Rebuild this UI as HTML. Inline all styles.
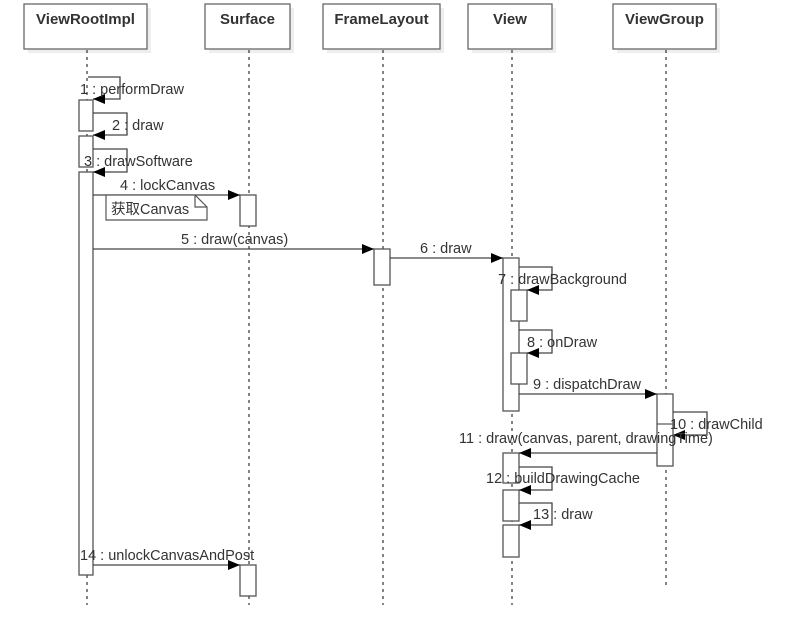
<!DOCTYPE html>
<html><head><meta charset="utf-8"><style>
html,body{margin:0;padding:0;background:#fff;}
svg text{font-family:"Liberation Sans","Noto Sans CJK SC",sans-serif;fill:#333;}
</style></head><body>
<svg width="800" height="622" viewBox="0 0 800 622" xmlns="http://www.w3.org/2000/svg">
<defs>
<marker id="a" markerWidth="12" markerHeight="10" refX="12" refY="5" orient="auto" markerUnits="userSpaceOnUse">
<path d="M0,0 L12,5 L0,10 Z" fill="#000"/></marker>
</defs>
<g fill="#eee">
<rect x="28" y="8" width="123" height="45"/><rect x="209" y="8" width="85" height="45"/>
<rect x="327" y="8" width="117" height="45"/><rect x="472" y="8" width="84" height="45"/>
<rect x="617" y="8" width="103" height="45"/>
</g>
<g fill="#fff" stroke="#666" stroke-width="1.3">
<rect x="24" y="4" width="123" height="45"/><rect x="205" y="4" width="85" height="45"/>
<rect x="323" y="4" width="117" height="45"/><rect x="468" y="4" width="84" height="45"/>
<rect x="613" y="4" width="103" height="45"/>
</g>
<g font-weight="bold" font-size="15" text-anchor="middle">
<text x="85.5" y="24">ViewRootImpl</text><text x="247.5" y="24">Surface</text>
<text x="381.5" y="24">FrameLayout</text><text x="510" y="24">View</text>
<text x="664.5" y="24">ViewGroup</text>
</g>
<g stroke="#333" stroke-width="1.2" stroke-dasharray="3,4">
<line x1="87" y1="50" x2="87" y2="605"/><line x1="249" y1="50" x2="249" y2="605"/>
<line x1="383" y1="50" x2="383" y2="605"/><line x1="512" y1="50" x2="512" y2="605"/>
<line x1="666" y1="50" x2="666" y2="585"/>
</g>
<g fill="#fff" stroke="#555" stroke-width="1.3">
<rect x="79" y="100" width="14" height="31"/><rect x="79" y="136" width="14" height="31"/>
<rect x="79" y="172" width="14" height="403"/>
<rect x="240" y="195" width="16" height="31"/>
<rect x="374" y="249" width="16" height="36"/>
<rect x="503" y="258" width="16" height="153"/>
<rect x="511" y="290" width="16" height="31"/><rect x="511" y="353" width="16" height="31"/>
<rect x="657" y="394" width="16" height="72"/>
<rect x="503" y="453" width="16" height="30"/>
<rect x="503" y="490" width="16" height="31"/><rect x="503" y="525" width="16" height="32"/>
<rect x="240" y="565" width="16" height="31"/>
</g>
<line x1="657" y1="424" x2="673" y2="424" stroke="#555" stroke-width="1.2"/>
<g fill="none" stroke="#444" stroke-width="1.3">
<polyline points="88,77 120,77 120,99 93,99" marker-end="url(#a)"/>
<polyline points="93,113 127,113 127,135 93,135" marker-end="url(#a)"/>
<polyline points="93,149 127,149 127,172 93,172" marker-end="url(#a)"/>
<line x1="93" y1="195" x2="240" y2="195" marker-end="url(#a)"/>
<line x1="93" y1="249" x2="374" y2="249" marker-end="url(#a)"/>
<line x1="390" y1="258" x2="503" y2="258" marker-end="url(#a)"/>
<polyline points="519,267 552,267 552,290 527,290" marker-end="url(#a)"/>
<polyline points="519,330 552,330 552,353 527,353" marker-end="url(#a)"/>
<line x1="519" y1="394" x2="657" y2="394" marker-end="url(#a)"/>
<polyline points="673,412 707,412 707,435 673,435" marker-end="url(#a)"/>
<line x1="657" y1="453" x2="519" y2="453" marker-end="url(#a)"/>
<polyline points="519,467 552,467 552,490 519,490" marker-end="url(#a)"/>
<polyline points="519,503 552,503 552,525 519,525" marker-end="url(#a)"/>
<line x1="93" y1="565" x2="240" y2="565" marker-end="url(#a)"/>
</g>
<path d="M106,195 L195,195 L207,207 L207,220 L106,220 Z" fill="#fff" stroke="#555" stroke-width="1.2"/>
<path d="M195,195 L195,207 L207,207" fill="none" stroke="#555" stroke-width="1.2"/>
<g font-size="14.5">
<text x="80" y="94">1 : performDraw</text>
<text x="112" y="130">2 : draw</text>
<text x="84" y="166">3 : drawSoftware</text>
<text x="120" y="190">4 : lockCanvas</text>
<text x="111" y="214">获取Canvas</text>
<text x="181" y="244">5 : draw(canvas)</text>
<text x="420" y="253">6 : draw</text>
<text x="498" y="284">7 : drawBackground</text>
<text x="527" y="347">8 : onDraw</text>
<text x="533" y="389">9 : dispatchDraw</text>
<text x="670" y="429">10 : drawChild</text>
<text x="459" y="443">11 : draw(canvas, parent, drawingTime)</text>
<text x="486" y="483">12 : buildDrawingCache</text>
<text x="533" y="519">13 : draw</text>
<text x="80" y="560">14 : unlockCanvasAndPost</text>
</g>
</svg>
</body></html>
